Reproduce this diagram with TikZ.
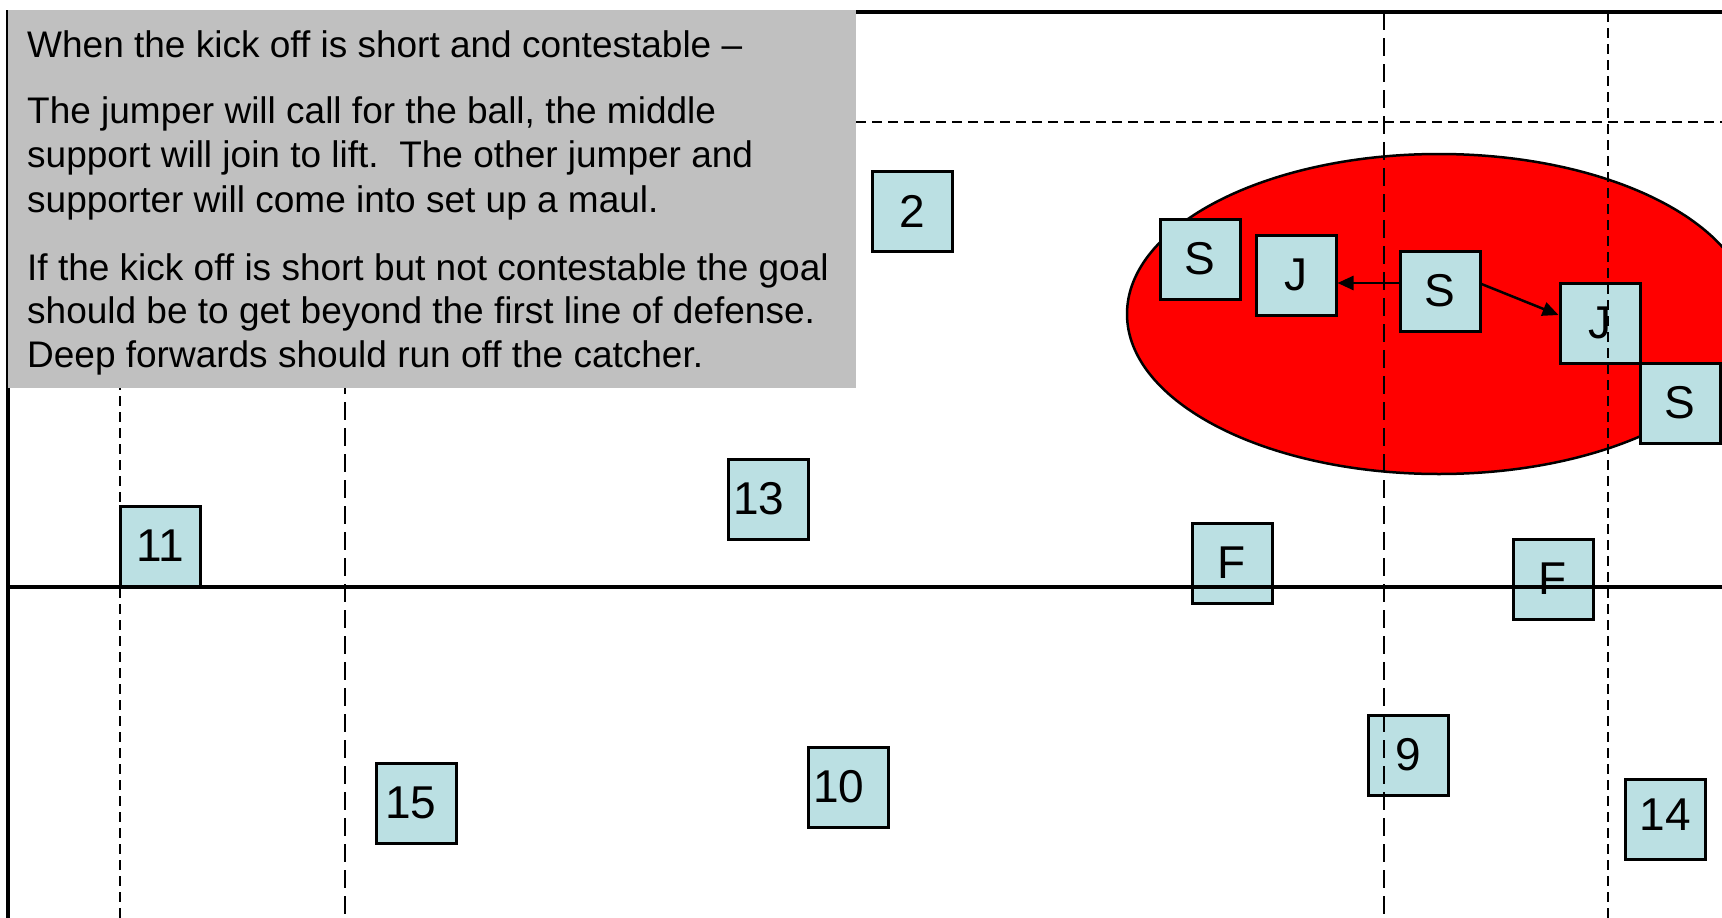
\documentclass[tikz,border=0pt]{standalone}
\usepackage{fontspec}
\setmainfont{Liberation Sans}
\usetikzlibrary{arrows.meta}
\definecolor{boxblue}{RGB}{187,224,227}
\definecolor{panelgrey}{RGB}{192,192,192}
\begin{document}
\begin{tikzpicture}[x=1pt,y=-1pt,
 pbox/.style={draw=black, fill=boxblue, line width=3pt, minimum width=80pt, minimum height=80pt, inner sep=0pt, font=\fontsize{46}{46}\selectfont},
 pleft/.style={pbox, text width=76pt, inner xsep=2pt, align=left},
 fieldline/.style={line width=3.2pt},
 shortdash/.style={line width=2.8pt, dash pattern=on 10pt off 6pt},
 longdash/.style={line width=2.8pt, dash pattern=on 18pt off 8pt},
 notetext/.style={anchor=base west, inner sep=0pt, font=\fontsize{37}{44}\selectfont},
 arr/.style={line width=2.5pt, -{Triangle[length=16pt,width=14pt]}}
]
\useasboundingbox (0,0) rectangle (1722,918);
% maul area
\draw[line width=2.5pt, fill=red] (1439,314) ellipse [x radius=312pt, y radius=160pt];
% players
\node[pbox] (n2) at (912,211) {2};
\node[pleft] (n13) at (768,499) {\hspace*{3pt}13};
\node[pbox] (n11) at (160,546) {11};
\node[pleft] (n15) at (416,803) {\hspace*{7pt}15};
\node[pleft] (n10) at (848,787) {\hspace*{3pt}10};
\node[pbox] (n9) at (1408,755) {9};
\node[pbox] (n14) at (1665,819) {\raisebox{8pt}{14}};
\node[pbox] (f1) at (1232,563) {F};
\node[pbox] (f2) at (1553,579) {F};
\node[pbox] (sl) at (1200,259) {S};
\node[pbox] (jl) at (1296,275) {J};
\node[pbox] (sm) at (1440,291) {S};
\node[pbox] (jr) at (1600,323) {J};
\node[pbox] (sr) at (1680,403) {S};
% field lines
\draw[fieldline] (8,918) -- (8,12) -- (1722,12);
\draw[fieldline] (8,587) -- (1722,587);
\draw[shortdash] (856,122) -- (1722,122);
\draw[shortdash] (120,12) -- (120,918);
\draw[longdash] (345,12) -- (345,918);
\draw[longdash] (1384,12) -- (1384,918);
\draw[shortdash] (1608,12) -- (1608,918);
% note panel
\fill[panelgrey] (8,10) rectangle (856,388);
\node[notetext] (t1) at (27,57) {When the kick off is short and contestable –};
\node[notetext] (t2) at (27,123) {The jumper will call for the ball, the middle};
\node[notetext] (t3) at (27,167) {support will join to lift.\ \ The other jumper and};
\node[notetext] (t4) at (27,212) {supporter will come into set up a maul.};
\node[notetext] (t5) at (27,280) {If the kick off is short but not contestable the goal};
\node[notetext] (t6) at (27,323) {should be to get beyond the first line of defense.};
\node[notetext] (t7) at (27,367) {Deep forwards should run off the catcher.};
% arrows
\coordinate (a1) at ([yshift=8pt]sm.west);
\draw[arr] (a1) -- (a1 -| jl.east);
\draw[arr] ([yshift=7pt]sm.east) -- ([yshift=8pt]jr.west);
\end{tikzpicture}
\end{document}
